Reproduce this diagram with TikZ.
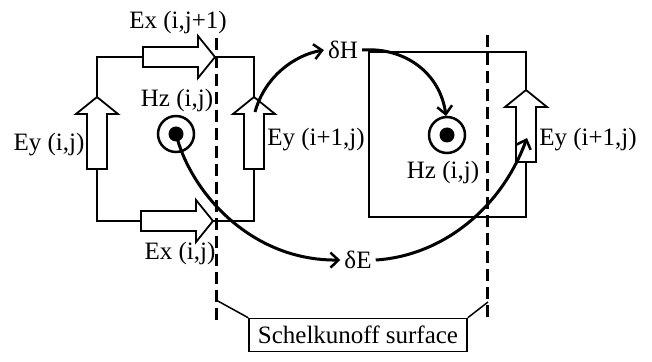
\documentclass[tikz,border=0pt]{standalone}
\usepackage{fontspec}
\setmainfont{Liberation Serif}
\usetikzlibrary{arrows.meta}
\begin{document}
\begin{tikzpicture}[x=1pt,y=1pt,
  lbl/.style={inner sep=2pt, font=\fontsize{25}{28}\selectfont},
  cell/.style={line width=1.2pt},
  surf/.style={line width=3pt, dash pattern=on 12pt off 6pt},
  flow/.style={line width=3pt, -{Straight Barb[length=8pt,width=15pt,line width=2.5pt]}},
  plainflow/.style={line width=3pt},
  hollowarrow/.pic={\draw[line width=1.8pt, fill=white, line join=miter]
     (0,0) -- (-17,21) -- (-17,10) -- (-72,10) -- (-72,-10) -- (-17,-10) -- (-17,-21) -- cycle;},
  hz/.pic={\draw[line width=2.5pt, fill=white] (0,0) circle (18); \fill (0,0) circle (7.5);}
]
\useasboundingbox (0,0) rectangle (652,361);

% cells
\draw[cell] (97,304) rectangle (254,140);
\draw[cell] (369,309) rectangle (526,144);

% Schelkunoff surface lines
\coordinate (sl1) at (216,323); \coordinate (sl2) at (216,38);
\coordinate (sr1) at (487,326); \coordinate (sr2) at (487,39);
\draw[surf] (sl1) -- (sl2);
\draw[surf] (sr1) -- (sr2);

% hollow field arrows
\pic at (215,304) {hollowarrow};
\pic at (213,140) {hollowarrow};
\pic[rotate=90] at (97,264) {hollowarrow};
\pic[rotate=90] at (254,264) {hollowarrow};
\pic[rotate=90] at (526,271) {hollowarrow};

% Hz symbols
\pic at (176,227) {hz};
\pic at (447,226) {hz};
\coordinate (hzl) at (176,227);
\coordinate (hzrtop) at (446,245);
\coordinate (eyl) at (255,249);
\coordinate (eyr) at (527,223);

% labels
\node[lbl] (exT) at (178,339) {Ex (i,j+1)};
\node[lbl] (eyL) at (49,216) {Ey (i,j)};
\node[lbl] (hzL) at (177,261) {Hz (i,j)};
\node[lbl] (eyM) at (316,221) {Ey (i+1,j)};
\node[lbl] (exB) at (180,108) {Ex (i,j)};
\node[lbl, inner sep=4pt] (dH) at (343,311) {δH};
\node[lbl] (hzR) at (443,189) {Hz (i,j)};
\node[lbl] (eyR) at (588,221) {Ey (i+1,j)};
\node[lbl, inner sep=4pt] (dE) at (358,101) {δE};
\node[lbl, draw, line width=1.5pt, minimum width=218pt, minimum height=33pt] (sch) at (358,26) {Schelkunoff surface};

% connectors to surface box
\coordinate (cl) at (216,61);
\coordinate (cr) at (488,59);
\draw[line width=1.5pt] (sch.north west) -- (cl);
\draw[line width=1.5pt] (sch.north east) -- (cr);

% update flow curves
\draw[flow] (hzl) .. controls (190,170) and (250,100) .. (dE.west);
\draw[flow] (eyl) .. controls (265,285) and (295,306) .. (dH.west);
\draw[flow] (dH.east) .. controls (405,314) and (440,288) .. (hzrtop);
\draw[flow] (dE.east) .. controls (440,105) and (500,150) .. (eyr);
\end{tikzpicture}
\end{document}
